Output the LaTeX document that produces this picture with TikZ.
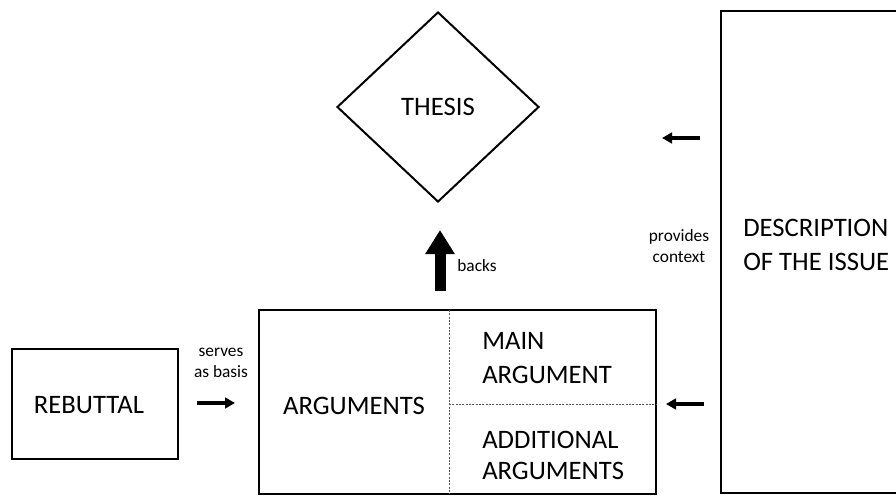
\documentclass[tikz,border=0pt]{standalone}
\usepackage{fontspec}
\setmainfont{Carlito}
\usetikzlibrary{shapes.geometric,arrows.meta}
\begin{document}
\begin{tikzpicture}[x=0.75pt,y=-0.75pt,
  box/.style={draw,line width=2.2pt,inner sep=0pt,outer sep=0pt},
  big/.style={font=\fontsize{20}{24}\selectfont},
  bigl/.style={font=\fontsize{20}{24}\selectfont,anchor=west,inner sep=0pt},
  small/.style={font=\fontsize{13}{15}\selectfont,inner sep=0pt},
  arr/.style={line width=2.3pt,-{Triangle[length=7.5pt,width=8pt]}},
  bigarr/.style={line width=8.25pt,-{Triangle[length=18pt,width=21pt]}},
  dots/.style={dash pattern=on 1.5pt off 1pt,line width=0.7pt,black!65}]
\clip (0,0) rectangle (896,496);
\fill[white] (0,0) rectangle (896,496);
% thesis
\node[draw,diamond,line width=1.5pt,minimum width=151.5pt,minimum height=142.5pt,inner sep=0pt,big] (thesis) at (438,107) {THESIS};
% rebuttal
\node[box,minimum width=124.5pt,minimum height=82.5pt] (reb) at (95,404) {};
\node[big] (rebt) at (89,405) {REBUTTAL};
% arguments
\node[box,minimum width=297.75pt,minimum height=138pt] (args) at (457.5,402) {};
\node[big] (argt) at (354,406) {ARGUMENTS};
\coordinate (d1) at (449,310);
\coordinate (d2) at (449,494);
\coordinate (h1) at (449,404);
\coordinate (h2) at (656,404);
\draw[dots] (d1) -- (d2);
\draw[dots] (h1) -- (h2);
\node[bigl] (main1) at (482,341) {MAIN};
\node[bigl] (main2) at (482,375) {ARGUMENT};
\node[bigl] (add1) at (482,440) {ADDITIONAL};
\node[bigl] (add2) at (482,471) {ARGUMENTS};
% description
\node[box,minimum width=141.75pt,minimum height=361.5pt] (desc) at (815.5,252) {};
\node[bigl] (desc1) at (743,228) {DESCRIPTION};
\node[bigl] (desc2) at (743,262) {OF THE ISSUE};
% labels
\node[small] (serves1) at (221,352) {serves};
\node[small] (serves2) at (221,372) {as basis};
\node[small] (backs) at (477,266) {backs};
\node[small] (prov1) at (679,237) {provides};
\node[small] (prov2) at (679,257) {context};
% arrows
\coordinate (s1) at (197,403);
\coordinate (s2) at (235,403);
\draw[arr] (s1) -- (s2);
\coordinate (b1) at (440,291);
\coordinate (b2) at (440,230);
\draw[bigarr] (b1) -- (b2);
\coordinate (t1) at (700,138);
\coordinate (t2) at (662,138);
\draw[arr] (t1) -- (t2);
\coordinate (u1) at (704,404);
\coordinate (u2) at (666,404);
\draw[arr] (u1) -- (u2);
\end{tikzpicture}
\end{document}
